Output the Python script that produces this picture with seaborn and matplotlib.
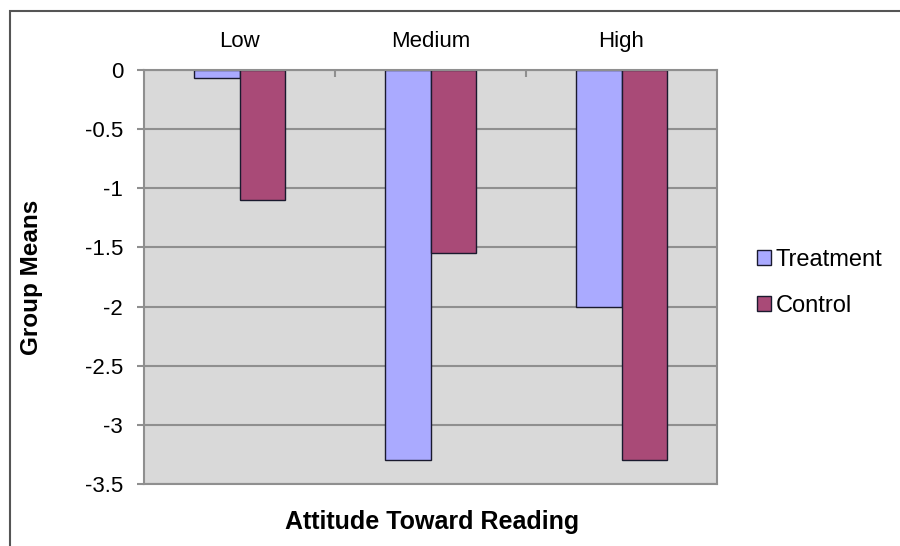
import pandas as pd
import seaborn as sns
import matplotlib.pyplot as plt
from matplotlib.patches import Rectangle
from matplotlib.ticker import FixedLocator

categories = ["Low", "Medium", "High"]
treatment = [-0.07, -3.3, -2.0]
control = [-1.1, -1.55, -3.3]
groups = ["Treatment", "Control"]
yticks = [0, -0.5, -1, -1.5, -2, -2.5, -3, -3.5]

df = pd.DataFrame({
    "Attitude": categories * 2,
    "Group": [groups[0]] * 3 + [groups[1]] * 3,
    "Mean": treatment + control,
})

sns.set_style("white")
plt.rcParams["font.family"] = ["Liberation Sans", "DejaVu Sans"]
plt.rcParams["axes.unicode_minus"] = False
plt.rcParams["text.color"] = "black"
plt.rcParams["xtick.labelcolor"] = "black"
plt.rcParams["ytick.labelcolor"] = "black"

fig = plt.figure(figsize=(9, 5.46), dpi=100)
ax = fig.add_axes([144 / 900, 1 - 484 / 546, (717 - 144) / 900, (484 - 70) / 546])
ax.set_facecolor("#D9D9D9")

sns.barplot(data=df, x="Attitude", y="Mean", hue="Group", order=categories,
            hue_order=groups, palette=["#AAAAFF", "#A94A77"], width=0.48,
            edgecolor="#1a1a2e", linewidth=1, saturation=1, ax=ax, legend=False)

ax.set_ylim(-3.5, 0)
ax.set_xlim(-0.5, 2.5)
ax.set_yticks(yticks)
ax.set_yticklabels(["%g" % v for v in yticks], fontsize=16)
ax.yaxis.grid(True, color="#8f8f8f", linewidth=1.5)
ax.set_axisbelow(True)
for s in ax.spines.values():
    s.set_color("#8f8f8f")
    s.set_linewidth(1.5)

ax.xaxis.tick_top()
ax.tick_params(axis="x", which="major", length=0, pad=13, labelsize=16)
ax.xaxis.set_minor_locator(FixedLocator([0.5, 1.5]))
ax.tick_params(axis="x", which="minor", top=True, bottom=False, direction="in",
               length=5, color="#8f8f8f", width=1.5)
ax.tick_params(axis="y", left=True, length=5, width=1.5, color="#8f8f8f", pad=10)
ax.set_xlabel("")
ax.set_ylabel("")

fig.text(432 / 900, 1 - 522 / 546, "Attitude Toward Reading", ha="center", va="center",
         fontsize=18, fontweight="bold")
fig.text(32 / 900, 1 - 277 / 546, "Group Means", ha="center", va="center",
         rotation=90, fontsize=17.5, fontweight="bold")

handles = [Rectangle((0, 0), 1, 1, facecolor=c, edgecolor="#1a1a2e", linewidth=1)
           for c in ["#AAAAFF", "#A94A77"]]
fig.legend(handles, groups, loc="center left", bbox_to_anchor=(757 / 900, 1 - 283 / 546),
           frameon=False, fontsize=17, handlelength=0.6, handleheight=0.6,
           handletextpad=0.2, labelspacing=1.0, borderpad=0, borderaxespad=0)

# outer chart border (only left and top edges fall inside the image)
fig.patches.append(Rectangle((10 / 900, -0.5), 2, 0.5 + 1 - 11 / 546, transform=fig.transFigure,
                             fill=False, edgecolor="#555555", linewidth=1.5, clip_on=False))

fig.savefig("out.png", dpi=100)
